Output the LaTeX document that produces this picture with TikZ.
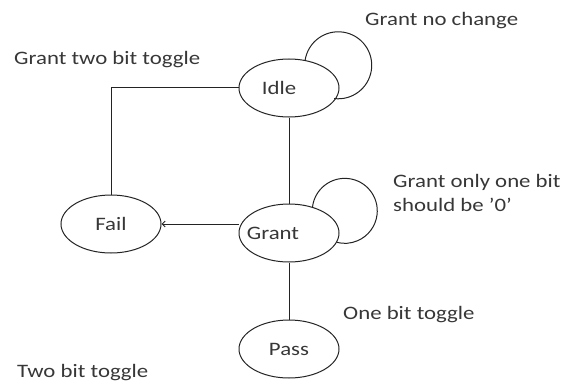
\documentclass[tikz,border=0pt]{standalone}
\usepackage{fontspec}
\setmainfont{Carlito}[FakeStretch=1.2]
\usepackage{tikz}
\usetikzlibrary{shapes.geometric, arrows.meta, positioning, calc}
\definecolor{inkgray}{RGB}{35,35,35}
\definecolor{txtgray}{RGB}{55,55,55}
\tikzset{
  state/.style={ellipse, draw=inkgray, line width=1pt, inner sep=0pt,
    minimum width=100pt, minimum height=58pt, text=txtgray,
    font=\fontsize{19}{24}\selectfont},
  link/.style={draw=inkgray, line width=1pt},
  lbl/.style={font=\fontsize{19}{24}\selectfont, text=txtgray, inner sep=0pt,
    anchor=west, align=left}
}

\begin{document}
\begin{tikzpicture}[x=1pt, y=1pt]
  \useasboundingbox (0,0) rectangle (577,-385);
  % states
  \node[state] (idle)  at (289,-88)  {\hspace*{-20pt}Idle};
  \node[state] (grant) at (289,-233) {\hspace*{-32pt}Grant};
  \node[state] (fail)  at (111,-224) {Fail};
  \node[state] (pass)  at (289,-349) {Pass};
  % transitions
  \draw[link] (idle.south) -- (grant.north);
  \draw[link] (grant.south) -- (pass.north);
  \draw[link, -{Straight Barb[length=3pt, width=6pt]}] (fail.east -| grant.west) -- (fail.east);
  \draw[link] (fail.north) |- (idle.west);
  % self loops
  \draw[link] (idle.60) arc[start angle=171, end angle=-97, radius=33.5];
  \draw[link] (grant.48) arc[start angle=173, end angle=-104, radius=32.5];
  % labels
  \node[lbl] (twoidle)  at (14,-60)   {Grant two bit toggle};
  \node[lbl] (nochange) at (365,-21)  {Grant no change};
  \node[lbl] (onezero)  at (393,-193) {Grant only one bit\\should be '0'};
  \node[lbl] (onetgl)   at (343,-315) {One bit toggle};
  \node[lbl] (twotgl)   at (17,-373)  {Two bit toggle};
\end{tikzpicture}
\end{document}
